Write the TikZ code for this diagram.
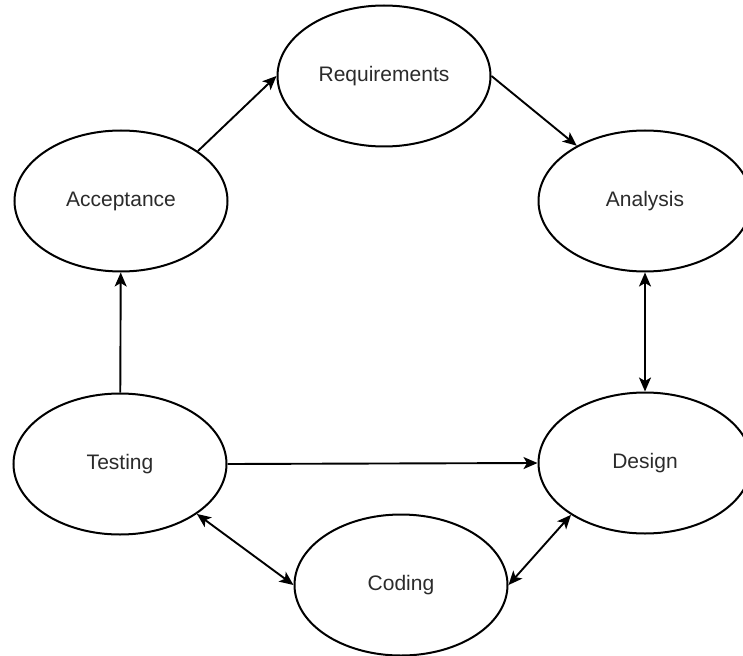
\documentclass[tikz,border=0pt]{standalone}
\usepackage{fontspec}
\setmainfont{Liberation Sans}
\usetikzlibrary{arrows.meta,shapes.geometric}
\definecolor{labeltext}{HTML}{2B2B2B}

\begin{document}
\begin{tikzpicture}[x=1pt, y=-1pt,
    phase/.style={ellipse, draw=black, line width=2pt, fill=white,
        minimum width=213pt, minimum height=141pt, inner sep=0pt,
        font=\fontsize{21}{25}\selectfont, text=labeltext},
    flow/.style={line width=1.9pt, -{Stealth[length=14pt, width=12pt, inset=3.5pt]}},
    both/.style={flow, {Stealth[length=14pt, width=12pt, inset=3.5pt]}-{Stealth[length=14pt, width=12pt, inset=3.5pt]}}]
    \useasboundingbox (0,0) rectangle (743,655);

    % Phases of the cycle
    \node[phase] (req) at (384,76) {Requirements};
    \node[phase] (acc) at (121,201) {Acceptance};
    \node[phase] (ana) at (645,201) {Analysis};
    \node[phase] (test) at (120,464) {Testing};
    \node[phase] (des) at (645,463) {Design};
    \node[phase] (cod) at (401,585) {Coding};

    % Connectors
    \draw[flow] (acc.33) -- (req.west);
    \draw[flow] (req.east) -- (ana.141);
    \draw[both] (ana) -- (des);
    \draw[flow] (test) -- (acc);
    \draw[flow] (test.east) -- (des.west);
    \draw[both] (test.-33) -- (cod.west);
    \draw[both] (cod.east) -- (des.215);
\end{tikzpicture}
\end{document}
